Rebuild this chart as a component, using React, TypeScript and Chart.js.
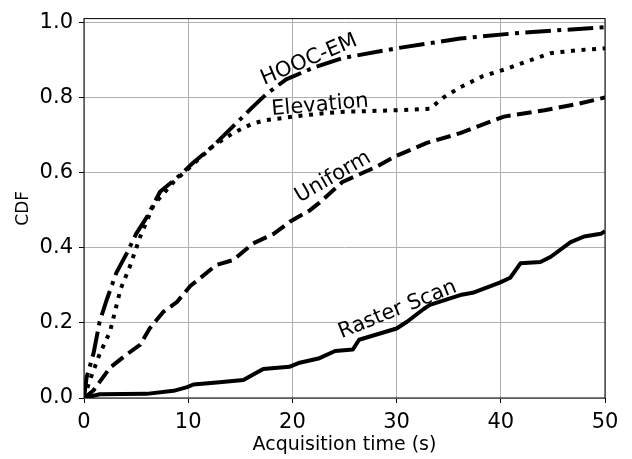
import React, { useEffect, useRef } from "react";
import { Chart, registerables } from "chart.js";

Chart.register(...registerables);

// HOOC-EM (dash-dot)
const hoocT = [0, 0.25, 0.9, 1.5, 2.2, 3.1, 4.1, 5.0, 6.0, 7.3, 9.2, 10.5, 12.4, 14.3, 16.2, 17.5, 19.4, 22, 24.8, 30, 36.1, 41, 45, 50];
const hoocV = [0, 0.055, 0.117, 0.203, 0.263, 0.333, 0.385, 0.437, 0.48, 0.549, 0.593, 0.627, 0.671, 0.723, 0.775, 0.809, 0.848, 0.879, 0.905, 0.931, 0.957, 0.97, 0.978, 0.987];

// Elevation (dotted)
const elevT = [0, 0.6, 1.5, 2.5, 3.5, 4.4, 5.4, 6.7, 8.6, 10.5, 12.4, 14.3, 16.2, 17.5, 20.1, 22.6, 25, 30, 33.2, 34.5, 36.1, 38.3, 40.3, 42.5, 44.8, 47.4, 50];
const elevV = [0, 0.05, 0.117, 0.177, 0.289, 0.35, 0.43, 0.515, 0.575, 0.623, 0.671, 0.705, 0.731, 0.74, 0.749, 0.757, 0.762, 0.766, 0.77, 0.8, 0.827, 0.857, 0.874, 0.896, 0.918, 0.926, 0.931];

// Uniform (dashed)
const unifT = [0, 0.9, 2.5, 4.1, 5.4, 6.3, 7.6, 8.9, 10.2, 12.7, 14.3, 16.2, 18.2, 19.8, 21.7, 22.6, 24.8, 28, 30, 32.9, 36.1, 39, 40.3, 44.2, 47.4, 50];
const unifV = [0, 0.02, 0.081, 0.116, 0.142, 0.185, 0.229, 0.255, 0.298, 0.354, 0.367, 0.411, 0.437, 0.47, 0.5, 0.52, 0.575, 0.615, 0.645, 0.679, 0.705, 0.736, 0.749, 0.766, 0.783, 0.8];

// Raster Scan (solid)
const rastT = [0, 1.5, 6, 8.6, 9.9, 10.5, 13, 15.3, 16.2, 17.2, 19.7, 20.7, 22.6, 24.1, 25.8, 26.4, 30, 31, 32.6, 33.2, 36.1, 37.3, 39.9, 40.9, 41.9, 43.8, 44.8, 46.7, 48, 49.6, 50];
const rastV = [0, 0.01, 0.011, 0.019, 0.029, 0.036, 0.042, 0.048, 0.062, 0.077, 0.083, 0.094, 0.106, 0.125, 0.129, 0.155, 0.185, 0.203, 0.237, 0.248, 0.274, 0.28, 0.307, 0.32, 0.359, 0.362, 0.376, 0.415, 0.43, 0.437, 0.444];

const seriesNames = ["HOOC-EM", "Elevation", "Uniform", "Raster Scan"];

// in-plot text labels (data coordinates, angle in degrees)
const labelText = ["HOOC-EM", "Elevation", "Uniform", "Raster Scan"];
const labelX = [21.6, 22.65, 23.9, 30.1];
const labelY = [0.9, 0.779, 0.588, 0.235];
const labelAngle = [-23, -5, -30, -22];

const yTicks = [0, 0.2, 0.4, 0.6, 0.8, 1.0];
const xTicks = [0, 10, 20, 30, 40, 50];

const FONT = "'DejaVu Sans', sans-serif";

function pts(t: number[], v: number[]) {
  return t.map((x, i) => ({ x, y: v[i] }));
}

export default function App() {
  const ref = useRef<HTMLCanvasElement | null>(null);
  useEffect(() => {
    if (!ref.current) return;
    const overlay = {
      id: "overlay",
      afterDatasetsDraw(chart: any) {
        const { ctx, chartArea: a, scales } = chart;
        ctx.save();
        ctx.strokeStyle = "#000";
        ctx.lineWidth = 1;
        ctx.strokeRect(a.left, a.top, a.right - a.left, a.bottom - a.top);
        ctx.fillStyle = "#000";
        ctx.font = `21px ${FONT}`;
        ctx.textAlign = "center";
        ctx.textBaseline = "middle";
        for (let i = 0; i < labelText.length; i++) {
          const px = scales.x.getPixelForValue(labelX[i]);
          const py = scales.y.getPixelForValue(labelY[i]);
          ctx.save();
          ctx.translate(px, py);
          ctx.rotate((labelAngle[i] * Math.PI) / 180);
          ctx.fillText(labelText[i], 0, 0);
          ctx.restore();
        }
        ctx.restore();
      },
    };
    const chart = new Chart(ref.current, {
      type: "line",
      data: {
        datasets: [
          { label: seriesNames[0], data: pts(hoocT, hoocV), borderDash: [25.6, 6.4, 4, 6.4] },
          { label: seriesNames[1], data: pts(elevT, elevV), borderDash: [4, 6.6] },
          { label: seriesNames[2], data: pts(unifT, unifV), borderDash: [14.8, 6.4] },
          { label: seriesNames[3], data: pts(rastT, rastV), borderDash: [] },
        ].map((d) => ({
          ...d,
          borderColor: "#000",
          borderWidth: 4,
          pointRadius: 0,
          tension: 0,
          fill: false,
          borderCapStyle: "butt" as const,
          borderJoinStyle: "round" as const,
        })),
      },
      options: {
        responsive: false,
        animation: false,
        devicePixelRatio: 1,
        layout: { padding: { top: 9.5, right: 27, left: 0, bottom: 0 } },
        plugins: { legend: { display: false }, tooltip: { enabled: false } },
        scales: {
          x: {
            type: "linear",
            min: 0,
            max: 50,
            afterBuildTicks: (s: any) => {
              s.ticks = xTicks.map((v) => ({ value: v }));
            },
            afterFit: (s: any) => {
              s.height = 61;
            },
            ticks: { color: "#000", font: { family: FONT, size: 21 }, padding: 7, maxRotation: 0 },
            grid: { color: "#b0b0b0", lineWidth: 1, tickColor: "#000", tickLength: 5 },
            border: { display: false },
            title: {
              display: true,
              text: "Acquisition time (s)",
              color: "#000",
              font: { family: FONT, size: 19 },
              padding: { top: 0, bottom: 3 },
            },
          },
          y: {
            type: "linear",
            min: 0,
            max: 1.01,
            afterBuildTicks: (s: any) => {
              s.ticks = yTicks.map((v) => ({ value: v }));
            },
            afterFit: (s: any) => {
              s.width = 84;
            },
            ticks: {
              color: "#000",
              font: { family: FONT, size: 21 },
              padding: 6,
              callback: (v: any) => Number(v).toFixed(1),
            },
            grid: { color: "#b0b0b0", lineWidth: 1, tickColor: "#000", tickLength: 5 },
            border: { display: false },
            title: {
              display: true,
              text: "CDF",
              color: "#000",
              font: { family: FONT, size: 17 },
              padding: { top: 13, bottom: 0 },
            },
          },
        },
      },
      plugins: [overlay],
    });
    return () => chart.destroy();
  }, []);
  return (
    <div style={{ position: "absolute", left: 0, top: 0, width: 632, height: 459, background: "#fff" }}>
      <canvas ref={ref} width={632} height={459} />
    </div>
  );
}
